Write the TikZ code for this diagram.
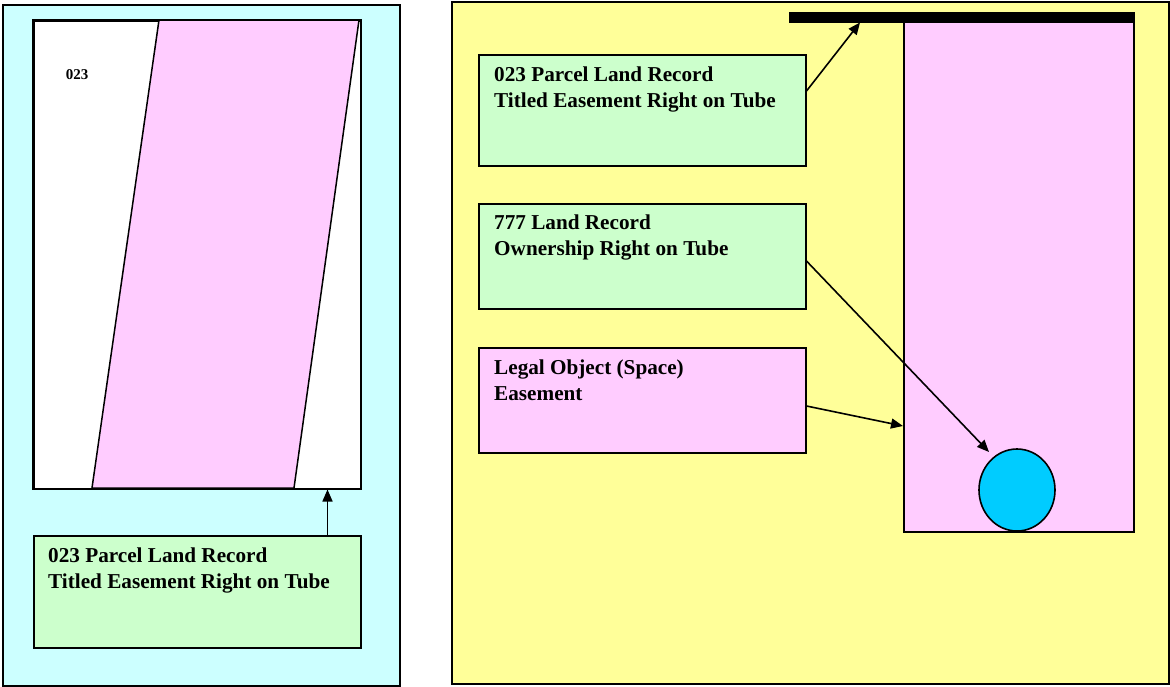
\documentclass[tikz,border=0pt]{standalone}
\usepackage{fontspec}
\setmainfont{Liberation Serif}
\usetikzlibrary{arrows.meta,shapes.geometric}
\definecolor{cyanbg}{HTML}{CCFFFF}
\definecolor{yellowbg}{HTML}{FFFF99}
\definecolor{pinkfill}{HTML}{FFCCFF}
\definecolor{greenfill}{HTML}{CCFFCC}
\definecolor{tubeblue}{HTML}{00CCFF}
\tikzset{
  panel/.style={draw=black, line width=1.5pt, rectangle, inner sep=0pt, anchor=north west},
  recbox/.style={draw=black, line width=1.5pt, rectangle, inner sep=0pt, anchor=north west, minimum width=327pt},
  lbl/.style={anchor=north west, inner sep=0pt, align=left, font=\fontsize{21.2}{25.5}\selectfont\bfseries},
  conn/.style={line width=1.6pt, -{Triangle[length=12pt,width=10pt]}},
}
\begin{document}
\begin{tikzpicture}[x=1pt,y=-1pt]
\useasboundingbox (0,0) rectangle (1170,686);
% left panel
\node[panel, fill=cyanbg, minimum width=397pt, minimum height=681pt] (lp) at (2,4) {};
\node[panel, fill=white, minimum width=327pt, minimum height=468pt] (parcel) at (33,20) {};
\coordinate (pa) at (159,20);
\coordinate (pb) at (359,20);
\coordinate (pc) at (294,488);
\coordinate (pd) at (92,488);
\draw[line width=1.5pt, fill=pinkfill] (pa) -- (pb) -- (pc) -- (pd) -- cycle;
\draw[line width=1.5pt] (parcel.north west) rectangle (parcel.south east);
\node[anchor=center, inner sep=0pt, font=\fontsize{15}{18}\selectfont\bfseries] (lab023) at (77,75) {023};
\node[recbox, fill=greenfill, minimum height=112pt] (lg) at (33,535) {};
\node[lbl] (lgt) at (48,548) {023 Parcel Land Record\\Titled Easement Right on Tube};
\draw[conn] ([xshift=-34pt]lg.north east) -- ([xshift=-34pt]parcel.south east);
% right panel
\node[panel, fill=yellowbg, minimum width=717pt, minimum height=682pt] (rp) at (451,1) {};
\node[panel, fill=black, minimum width=344pt, minimum height=9pt] (bar) at (789,12) {};
\node[panel, fill=pinkfill, minimum width=230pt, minimum height=510pt] (space) at (903,21) {};
\node[draw=black, line width=1.6pt, ellipse, fill=tubeblue, minimum width=76pt, minimum height=82pt, inner sep=0pt] (tube) at (1017,490) {};
\node[recbox, fill=greenfill, minimum height=111pt] (g1) at (478,54) {};
\node[lbl] (g1t) at (494,67) {023 Parcel Land Record\\Titled Easement Right on Tube};
\node[recbox, fill=greenfill, minimum height=105pt] (g2) at (478,203) {};
\node[lbl] (g2t) at (494,215) {777 Land Record\\Ownership Right on Tube};
\node[recbox, fill=pinkfill, minimum height=105pt] (g3) at (478,347) {};
\node[lbl] (g3t) at (494,360) {Legal Object (Space)\\Easement};
\draw[conn] ([yshift=-37pt]g1.north east) -- ([xshift=71pt]bar.south west);
\draw[conn] ([yshift=-58pt]g2.north east) -- ([shift={(-28pt,38pt)}]tube.center);
\draw[conn] ([yshift=-59pt]g3.north east) -- ([yshift=-405pt]space.north west);
\end{tikzpicture}
\end{document}
